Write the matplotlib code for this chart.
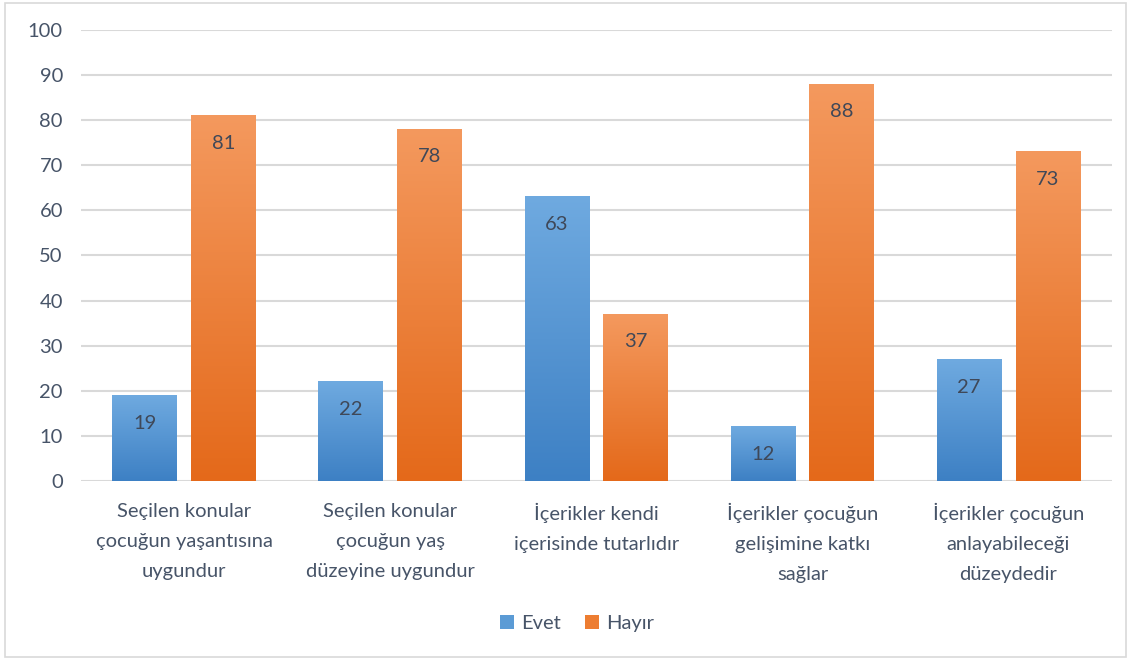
import matplotlib.pyplot as plt
import matplotlib.colors as mcolors
from matplotlib.patches import Rectangle, Patch
import numpy as np

categories = [
    'Seçilen konular\nçocuğun yaşantısına\nuygundur',
    'Seçilen konular\nçocuğun yaş\ndüzeyine uygundur',
    'İçerikler kendi\niçerisinde tutarlıdır',
    'İçerikler çocuğun\ngelişimine katkı\nsağlar',
    'İçerikler çocuğun\nanlayabileceği\ndüzeydedir',
]
evet = [19, 22, 63, 12, 27]
hayir = [81, 78, 37, 88, 73]
series_names = ['Evet', 'Hayır']

plt.rcParams['font.family'] = ['Lato', 'DejaVu Sans']

text_color = '#475468'
label_color = '#3F4858'
grid_color = '#D9D9D9'
blue_top, blue_bot = '#6FAAE0', '#3D80C4'
orange_top, orange_bot = '#F4995E', '#E4691A'

fig = plt.figure(figsize=(11.32, 6.63), dpi=100)
ax = fig.add_axes([0.0715, 0.2745, 0.9105, 0.6803])

# outer chart border
fig.patches.append(Rectangle((0.0045, 0.009), 0.99, 0.986, transform=fig.transFigure,
                             fill=False, edgecolor=grid_color, linewidth=1.2))

x = np.arange(len(categories))
width = 0.314
offset = 0.191


def gradient_bar(xc, h, top, bot):
    cmap = mcolors.LinearSegmentedColormap.from_list('g', [bot, top])
    grad = np.linspace(0, 1, 256).reshape(-1, 1)
    ax.imshow(grad, extent=(xc - width / 2, xc + width / 2, 0, h), origin='lower',
              cmap=cmap, aspect='auto', zorder=2, interpolation='bicubic')
    ax.annotate(str(h), (xc, h), xytext=(0, -20), textcoords='offset points',
                ha='center', va='center', fontsize=14.5, color=label_color, zorder=3)


for i in range(len(categories)):
    gradient_bar(x[i] - offset, evet[i], blue_top, blue_bot)
    gradient_bar(x[i] + offset, hayir[i], orange_top, orange_bot)

ax.set_xlim(-0.5, len(categories) - 0.5)
ax.set_ylim(0, 100)
ax.set_yticks(range(0, 101, 10))
ax.yaxis.grid(True, color=grid_color, linewidth=1.5, zorder=0)
ax.set_axisbelow(True)
for s in ax.spines.values():
    s.set_visible(False)

ax.set_xticks(x)
ax.set_xticklabels(categories, linespacing=1.93)
ax.tick_params(axis='both', length=0, labelsize=14.5, colors=text_color)
ax.tick_params(axis='y', pad=13)
ax.tick_params(axis='x', pad=16)

handles = [Patch(facecolor='#5B9BD5', edgecolor='none'),
           Patch(facecolor='#ED7D31', edgecolor='none')]
leg = fig.legend(handles, series_names, loc='center', bbox_to_anchor=(0.51, 0.059),
                 ncol=2, frameon=False, fontsize=14.5, handlelength=0.7,
                 handleheight=0.7, handletextpad=0.35, columnspacing=1.2)
for t in leg.get_texts():
    t.set_color(text_color)

fig.savefig('out.png', dpi=100)
